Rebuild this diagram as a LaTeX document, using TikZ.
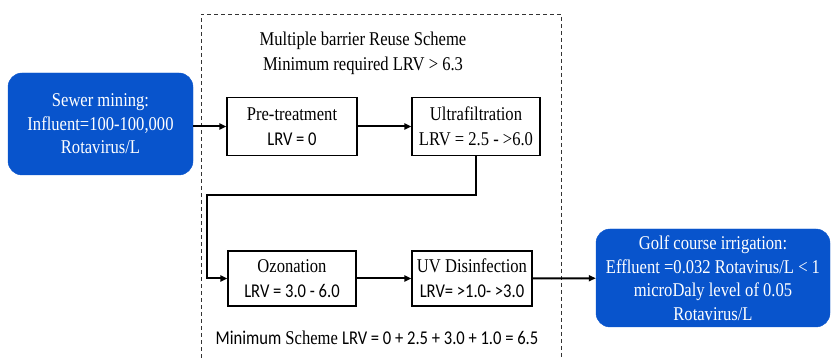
\documentclass[tikz,border=0pt]{standalone}
\usepackage{fontspec}
\setmainfont[FakeStretch=0.85]{Liberation Serif}
\newfontfamily\calib[FakeStretch=0.85]{Carlito}
\usetikzlibrary{arrows.meta}
\definecolor{boxblue}{RGB}{8,84,204}
\tikzset{
  bluebox/.style={rectangle, rounded corners=14pt, fill=boxblue, draw=boxblue, text=white, align=center, inner sep=2pt, font=\fontsize{19.5}{23.5}\selectfont},
  stagebox/.style={rectangle, draw=black, line width=1.1pt, fill=white, align=center, inner sep=2pt, font=\fontsize{19.5}{25}\selectfont},
  flow/.style={line width=2pt, -{Triangle[length=7pt,width=6pt]}},
  label/.style={align=center, font=\fontsize{19.5}{25}\selectfont},
  frame/.style={dashed, line width=0.8pt, dash pattern=on 4pt off 3pt, draw=black!80}
}
\begin{document}
\begin{tikzpicture}[x=1pt,y=-1pt]
\useasboundingbox (0,0) rectangle (831,358);
\draw[frame] (201,358) -- (201,14) -- (561,14) -- (561,358);
\node[label] (title) at (363,53) {Multiple barrier Reuse Scheme\\Minimum required LRV > 6.3};
\node[bluebox, minimum width=185pt, minimum height=102pt] (sewer) at (100.5,124) {Sewer mining:\\Influent=100-100,000\\Rotavirus/L};
\node[stagebox, minimum width=130pt, minimum height=58pt] (pre) at (292,126.5) {Pre-treatment\\{\calib LRV = 0}};
\node[stagebox, minimum width=128pt, minimum height=58pt] (ultra) at (476,126.5) {Ultrafiltration\\LRV = 2.5 - >6.0};
\node[stagebox, minimum width=128pt, minimum height=55pt] (ozone) at (292,278.5) {Ozonation\\{\calib LRV = 3.0 - 6.0}};
\node[stagebox, minimum width=120pt, minimum height=55pt] (uv) at (472,278.5) {UV Disinfection\\{\calib LRV= >1.0- >3.0}};
\node[bluebox, minimum width=234pt, minimum height=98pt] (golf) at (713,278) {Golf course irrigation:\\Effluent =0.032 Rotavirus/L < 1\\microDaly level of 0.05\\Rotavirus/L};
\node[label] (sum) at (377,338) {{\calib Minimum} Scheme {\calib LRV = 0 + 2.5 + 3.0 + 1.0 = 6.5}};
\coordinate (c1) at (476,195);
\coordinate (c2) at (207,195);
\draw[flow] (sewer.east |- pre.west) -- (pre.west);
\draw[flow] (pre) -- (ultra);
\draw[flow] (ultra.south) -- (c1) -- (c2) |- (ozone.west);
\draw[flow] (ozone) -- (uv);
\draw[flow] (uv) -- (golf);
\end{tikzpicture}
\end{document}
